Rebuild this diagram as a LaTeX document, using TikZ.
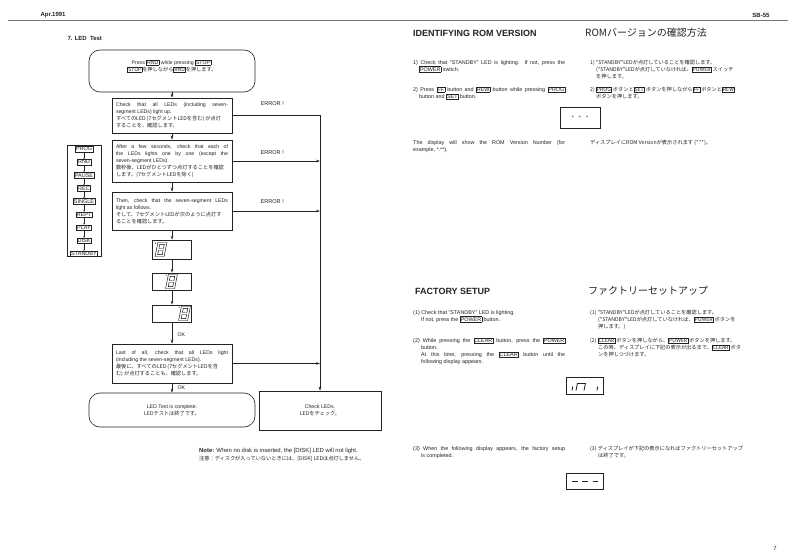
\documentclass[tikz,border=0pt]{standalone}
\usepackage{fontspec}
\setmainfont{Liberation Sans}
\newfontfamily\jp{Noto Sans CJK JP}
\usetikzlibrary{arrows.meta,positioning}
\definecolor{ink}{RGB}{35,35,35}
\definecolor{rulegray}{RGB}{120,120,120}
\newcommand{\bodytxt}{\fontsize{5.2}{7}\selectfont}
\newcommand{\headtxt}{\fontsize{9}{11}\selectfont\bfseries}
\newcommand{\kb}[1]{{\fboxsep=0.5pt\fboxrule=0.35pt\fbox{#1}}}
% seven-segment "8", outlined and slanted
\newcommand{\segeight}[2]{%
  \begin{scope}[shift={(#1,#2)},xslant=0.2,line width=0.45pt]
    \draw (-4.5,-7) rectangle (4.5,7);
    \draw (-2.3,-5.2) rectangle (2.3,-1);
    \draw (-2.3,1) rectangle (2.3,5.2);
    \draw (-6.7,-7) -- (-6.5,-5.5);
  \end{scope}}

\begin{document}
\begin{tikzpicture}[x=1pt,y=-1pt,
  every node/.style={font=\bodytxt, text=ink},
  flowbox/.style={draw=ink, line width=0.6pt, text width=112pt, inner xsep=4pt,
                  inner ysep=2pt, align=justify},
  roundbox/.style={draw=ink, line width=0.6pt, rounded corners=11pt,
                   minimum width=166pt, align=center},
  dispbox/.style={draw=ink, line width=0.5pt, minimum width=39pt,
                  minimum height=18pt, inner sep=0pt},
  keylbl/.style={draw=ink, line width=0.35pt, inner sep=0.8pt,
                 font=\fontsize{5.5}{6}\selectfont},
  flowarrow/.style={-{Stealth[length=4pt,width=2.6pt]}, ink, line width=0.5pt},
  keyarrow/.style={-{Stealth[length=1.6pt,width=1.4pt]}, ink, line width=0.3pt},
  textblock/.style={anchor=north west, inner sep=0pt, align=left},
  engblock/.style={anchor=north west, inner sep=0pt, text width=152pt,
                   align=justify, font=\fontsize{5.4}{7}\selectfont},
  jpblock/.style={anchor=north west, inner sep=0pt, align=left, font=\bodytxt\jp},
  ]
  \fill[white] (0,0) rectangle (793,559);
  \useasboundingbox (0,0) rectangle (793,559);

  % --- page header ---
  \draw[rulegray, line width=1pt] (8,21) -- (788,21);
  \node[anchor=west, font=\fontsize{6}{7}\selectfont\bfseries] (date) at (37,15) {Apr.1991};
  \node[anchor=east, font=\fontsize{6}{7}\selectfont\bfseries] (model) at (773,15) {SB-55};
  \node[anchor=west, font=\fontsize{6}{7}\selectfont\bfseries] (title) at (64,38) {7. LED\ \ Test};

  % --- flowchart (LED test) ---
  \node[roundbox, minimum height=42pt] (start) at (172,71)
    {Press \kb{RND} while pressing \kb{STOP}.\\ \jp\kb{STOP}を押しながら\kb{RND}を押します。\\[3pt]};
  \node[flowbox, minimum height=35pt] (chkall) at (172,115.5)
    {Check that all LEDs (including seven-\linebreak segment LEDs) light up.\\
     \jp すべてのLED (7セグメントLEDを含む) が点灯\\することを、確認します。};
  \node[flowbox, minimum height=42pt] (onebyone) at (172,161)
    {After a few seconds, check that each of\linebreak the LEDs lights one by one (except the\linebreak seven-segment LEDs).\\
     \jp 数秒後、LEDがひとつずつ点灯することを確認\\します。(7セグメントLEDを除く)};
  \node[flowbox, minimum height=38pt] (segtest) at (172,211)
    {Then, check that the seven-segment LEDs\linebreak light as follows.\\
     \jp そして、7セグメントLEDが次のように点灯す\\ることを確認します。};
  \node[dispbox, minimum height=19pt] (dispa) at (172,249.5) {};
  \node[dispbox, minimum height=17pt] (dispb) at (172,281.5) {};
  \node[dispbox, minimum height=17pt] (dispc) at (172,313.5) {};
  \segeight{161}{249.5}
  \segeight{171.5}{281.5}
  \segeight{184.5}{313.5}
  \node[flowbox, minimum height=39pt] (lastall) at (172,363.5)
    {Last of all, check that all LEDs light\linebreak (including the seven-segment LEDs).\\
     \jp 最後に、すべてのLED (7セグメントLEDを含\\む) が点灯することも、確認します。};
  \node[roundbox, minimum height=34pt] (done) at (172,410)
    {LED Test is complete.\\ \jp LEDテストは終了です。};
  \node[draw=ink, line width=0.6pt, minimum width=122pt, minimum height=39pt, align=center] (chkled) at (320,410.5)
    {Check LEDs.\\ \jp LEDをチェック。};

  \draw[flowarrow] (start) -- (chkall);
  \draw[flowarrow] (chkall) -- (onebyone);
  \draw[flowarrow] (onebyone) -- (segtest);
  \draw[flowarrow] (segtest) -- (dispa);
  \draw[flowarrow] (dispa) -- (dispb);
  \draw[flowarrow] (dispb) -- (dispc);
  \draw[flowarrow] (dispc) -- (lastall) node[pos=0.6, anchor=west, xshift=2pt] (oka) {OK};
  \draw[flowarrow] (lastall) -- (done) node[pos=0.45, anchor=west, xshift=2pt] (okb) {OK};

  % --- error path ---
  \coordinate (bus) at (320,115.5);
  \draw[flowarrow] (chkall.east) -- (bus) -- (chkled.north);
  \draw[flowarrow] (onebyone.east) -- (onebyone.east -| bus);
  \draw[flowarrow] (segtest.east) -- (segtest.east -| bus);
  \draw[flowarrow] (lastall.east) -- (lastall.east -| bus);
  \node[anchor=west, font=\fontsize{5.6}{7}\selectfont] (erra) at (257,104) {ERROR !};
  \node[anchor=west, font=\fontsize{5.6}{7}\selectfont] (errb) at (257,153) {ERROR !};
  \node[anchor=west, font=\fontsize{5.6}{7}\selectfont] (errc) at (257,202) {ERROR !};

  % --- LED order list ---
  \node[draw=ink, line width=0.5pt, minimum width=34pt, minimum height=111pt] (keys) at (84,200.5) {};
  \foreach \k [count=\i] in {PROG,RND,PAUSE,REC,SINGLE,REPT,PLAY,DISK,STANDBY}{
    \node[keylbl] (key\i) at (84,{149+13.1*(\i-1)}) {\k};
  }
  \foreach \i in {1,...,8}{
    \pgfmathtruncatemacro\j{\i+1}
    \draw[keyarrow] (key\i) -- (key\j);
  }

  % --- note ---
  \node[textblock, font=\fontsize{5.9}{7.5}\selectfont] (note) at (199,448.5)
    {\textbf{Note:} When no disk is inserted, the [DISK] LED will not light.};
  \node[jpblock] (notejp) at (199,456)
    {注意：ディスクが入っていないときには、[DISK] LEDは点灯しません。};

  % --- identifying ROM version ---
  \node[anchor=west, inner sep=0pt, font=\headtxt] (idhead) at (413,33) {IDENTIFYING ROM VERSION};
  \node[anchor=west, inner sep=0pt, font=\fontsize{10}{12}\selectfont\jp] (idheadjp) at (585,33) {ROMバージョンの確認方法};
  \node[engblock] (ide1) at (413,60)
    {1) Check that "STANDBY" LED is lighting. If not, press the\linebreak \hspace*{6pt}\kb{POWER} switch.};
  \node[engblock] (ide2) at (413,87)
    {2) Press \kb{FF} button and \kb{REW} button while pressing \kb{PROG}\linebreak \hspace*{6pt}button and \kb{SET} button.};
  \node[engblock] (ide3) at (413,140)
    {The display will show the ROM Version Number (for\linebreak example, *.**).};
  \node[jpblock] (idj1) at (590,60)
    {1) "STANDBY"LEDが点灯していることを確認します。\\ \hspace*{6pt}("STANDBY"LEDが点灯していなければ、\kb{POWER} スイッチ\\ \hspace*{6pt}を押します。};
  \node[jpblock] (idj2) at (590,87)
    {2) \kb{PROG} ボタンと\kb{SET} ボタンを押しながら\kb{FF} ボタンと\kb{REW}\\ \hspace*{6pt}ボタンを押します。};
  \node[jpblock] (idj3) at (590,140)
    {ディスプレイにROM Versionが表示されます (*.**)。};
  \node[dispbox, minimum width=40pt, minimum height=21pt] (disprom) at (580,117.5) {*\quad *\quad *};

  % --- factory setup ---
  \node[anchor=west, inner sep=0pt, font=\headtxt] (fshead) at (415,291) {FACTORY SETUP};
  \node[anchor=west, inner sep=0pt, font=\fontsize{10}{12}\selectfont\jp] (fsheadjp) at (588,291) {ファクトリーセットアップ};
  \node[engblock] (fse1) at (413,310)
    {(1) Check that "STANDBY" LED is lighting.\\ \hspace*{8pt}If not, press the \kb{POWER} button.};
  \node[engblock] (fse2) at (413,338)
    {(2) While pressing the \kb{CLEAR} button, press the \kb{POWER}\linebreak \hspace*{8pt}button.\\
     \hspace*{8pt}At this time, pressing the \kb{CLEAR} button until the\linebreak \hspace*{8pt}following display appears.};
  \node[engblock] (fse3) at (413,446)
    {(3) When the following display appears, the factory setup\linebreak \hspace*{8pt}is completed.};
  \node[jpblock] (fsj1) at (590,310)
    {(1) "STANDBY"LEDが点灯していることを確認します。\\ \hspace*{8pt}("STANDBY"LEDが点灯していなければ、\kb{POWER} ボタンを\\ \hspace*{8pt}押します。)};
  \node[jpblock] (fsj2) at (590,338)
    {(2) \kb{CLEAR} ボタンを押しながら、\kb{POWER} ボタンを押します。\\ \hspace*{8pt}この時、ディスプレイに下記の表示が出るまで、\kb{CLEAR} ボタ\\ \hspace*{8pt}ンを押しつづけます。};
  \node[jpblock] (fsj3) at (590,446)
    {(3) ディスプレイが下記の表示になればファクトリーセットアップ\\ \hspace*{8pt}は終了です。};

  \node[dispbox, minimum width=37pt, minimum height=17pt] (dispsetup) at (584.5,385.5) {};
  \begin{scope}[shift={(dispsetup.center)}, xslant=0.2, line width=0.8pt, ink]
    \draw (-11.5,1) -- (-11.5,5);
    \draw (-7.5,5) -- (-7.5,-2) -- (0.5,-2) -- (0.5,5);
    \draw (13.5,1) -- (13.5,5);
  \end{scope}
  \node[dispbox, minimum width=37pt, minimum height=16pt] (dispdone) at (584.5,481.5) {};
  \foreach \a/\b in {-12.5/-6.5, -2.5/3.5, 8.5/13.5}{
    \draw[ink, line width=1pt] ([xshift=\a pt]dispdone.center) -- ([xshift=\b pt]dispdone.center);
  }

  \node[font=\fontsize{6}{7}\selectfont] (pageno) at (775,548) {7};
\end{tikzpicture}
\end{document}
